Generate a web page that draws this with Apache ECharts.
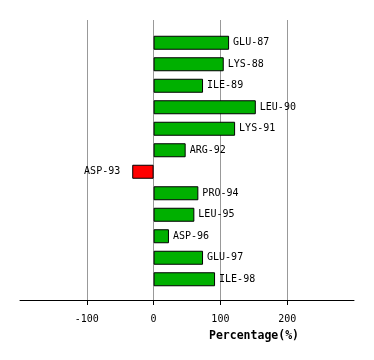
<!DOCTYPE html>
<html>
<head>
<meta charset="utf-8">
<script src="https://cdn.jsdelivr.net/npm/echarts@6/dist/echarts.min.js"></script>
<style>html,body{margin:0;padding:0;background:#fff;}#c{width:374px;height:360px;}</style>
</head>
<body>
<div id="c"></div>
<script>
const categories = ['GLU-87','LYS-88','ILE-89','LEU-90','LYS-91','ARG-92','ASP-93','PRO-94','LEU-95','ASP-96','GLU-97','ILE-98'];
const values = [113, 105, 74, 153, 122, 48, -32, 67, 61, 23, 74, 92];
const tickValues = [-100, 0, 100, 200];
const axisName = 'Percentage(%)';

const chart = echarts.init(document.getElementById('c'));
const font = 'DejaVu Sans Mono';
chart.setOption({
  animation: false,
  backgroundColor: '#fff',
  title: {
    text: axisName, left: 249, top: 325, textAlign: 'center',
    textStyle: {fontFamily: font, fontSize: 11.5, fontWeight: 'bold', color: '#000'}
  },
  grid: [
    {left: 20, right: 20, top: 20, height: 280},
    {left: 20, right: 20, top: 32, height: 258}
  ],
  xAxis: [
    {
      gridIndex: 0, type: 'value', min: -200, max: 300, interval: 100,
      axisLine: {show: true, lineStyle: {color: '#000', width: 1}},
      axisTick: {show: true, length: 5, customValues: tickValues, lineStyle: {color: '#000'}},
      axisLabel: {show: true, customValues: tickValues, margin: 14, fontFamily: font, fontSize: 10, color: '#000'},
      splitLine: {show: true, lineStyle: {color: '#999', width: 1}}
    },
    {
      gridIndex: 1, type: 'value', min: -200, max: 300, interval: 100,
      axisLine: {show: false}, axisTick: {show: false}, axisLabel: {show: false}, splitLine: {show: false}
    }
  ],
  yAxis: [
    {gridIndex: 0, type: 'value', show: false, splitLine: {show: false}},
    {gridIndex: 1, type: 'category', data: categories, inverse: true, show: false}
  ],
  series: [{
    type: 'bar',
    xAxisIndex: 1, yAxisIndex: 1,
    barWidth: 14,
    data: values.map(v => ({
      value: v,
      itemStyle: {color: v < 0 ? '#ff0000' : '#00b000', borderColor: '#000', borderWidth: 1},
      label: {position: v < 0 ? 'left' : 'right', distance: v < 0 ? 12 : 4}
    })),
    label: {
      show: true,
      formatter: p => categories[p.dataIndex],
      fontFamily: font, fontSize: 10, color: '#000'
    }
  }]
});
</script>
</body>
</html>
